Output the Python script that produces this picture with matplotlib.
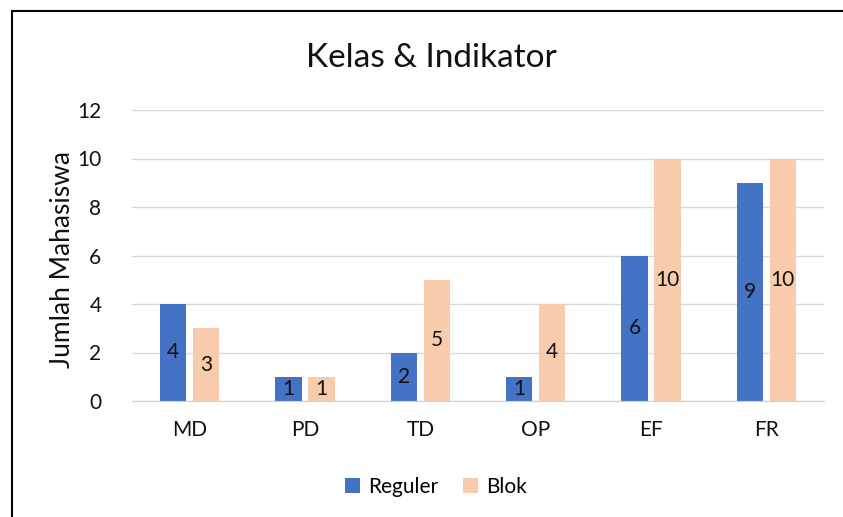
import matplotlib
matplotlib.use("Agg")
import matplotlib.pyplot as plt
import numpy as np

categories = ["MD", "PD", "TD", "OP", "EF", "FR"]
reguler = [4, 1, 2, 1, 6, 9]
blok = [3, 1, 5, 4, 10, 10]
yticks = [0, 2, 4, 6, 8, 10, 12]

plt.rcParams['font.family'] = ['Lato', 'DejaVu Sans']

fig = plt.figure(figsize=(8.43, 5.17), dpi=100)
ax = fig.add_axes([132/843, 1-401/517, (824-132)/843, (401-110)/517])

x = np.arange(len(categories))
w = 0.23
gap = 0.055
off = (w + gap) / 2
b1 = ax.bar(x - off, reguler, w, color="#4472C4", label="Reguler", zorder=3)
b2 = ax.bar(x + off, blok, w, color="#F8CBAD", label="Blok", zorder=3)
for bars in (b1, b2):
    ax.bar_label(bars, label_type="center", fontsize=15, color="#111111")

ax.set_xlim(-0.5, len(categories) - 0.5)
ax.set_ylim(0, 12)
ax.set_yticks(yticks)
ax.set_xticks(x)
ax.set_xticklabels(categories)
ax.tick_params(axis="both", length=0, labelsize=15, colors="#111111")
ax.tick_params(axis="x", pad=14)
ax.tick_params(axis="y", pad=22)
ax.grid(axis="y", color="#D9D9D9", linewidth=1, zorder=0)
for s in ["top", "right", "left"]:
    ax.spines[s].set_visible(False)
ax.spines["bottom"].set_color("#D0D0D0")
ax.spines["bottom"].set_zorder(4)

ax.set_ylabel("Jumlah Mahasiswa", fontsize=19, color="#111111", va="center")
ax.yaxis.set_label_coords((63-132)/692, (401-260)/291)
fig.text(431/843, 1-58/517, "Kelas & Indikator", ha="center", va="center",
         fontsize=24, color="#111111")

fig.legend(handles=[b1, b2], labels=["Reguler", "Blok"], loc="center",
           bbox_to_anchor=(436/843, 1-487/517), ncol=2, frameon=False,
           fontsize=15, handlelength=0.7, handleheight=0.7, columnspacing=1.2,
           handletextpad=0.4)

# outer frame (left and top edges visible)
fig.add_artist(plt.Line2D([12/843, 12/843], [0, 1-11/517], transform=fig.transFigure,
                          color="black", linewidth=1.5))
fig.add_artist(plt.Line2D([12/843, 1], [1-11/517, 1-11/517], transform=fig.transFigure,
                          color="black", linewidth=1.5))

fig.savefig("out.png", dpi=100)
